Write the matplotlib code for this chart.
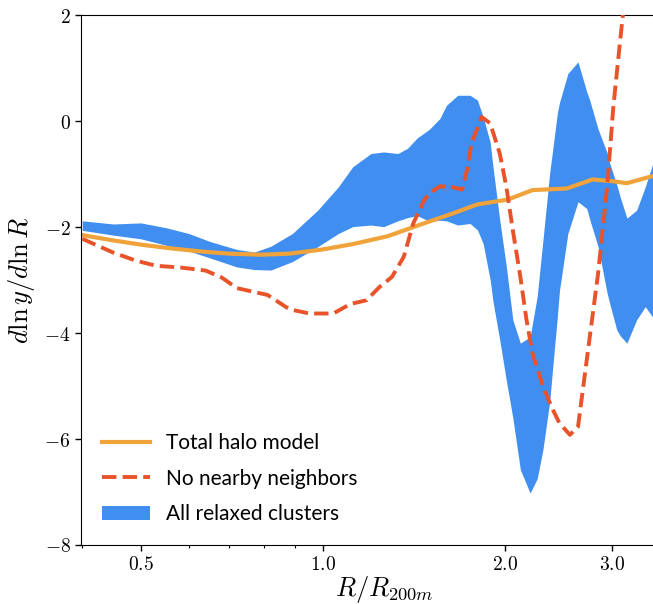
import numpy as np
import matplotlib
matplotlib.use("Agg")
import matplotlib.pyplot as plt
from matplotlib.ticker import FixedLocator, FixedFormatter, LogLocator, NullFormatter

# Total halo model (log-slope)
r_model = [0.40, 0.45, 0.50, 0.56, 0.63, 0.70, 0.79, 0.88, 1.00, 1.12, 1.28,
           1.45, 1.64, 1.80, 2.02, 2.22, 2.53, 2.79, 3.00, 3.18, 3.47, 3.70]
slope_model = [-2.15, -2.25, -2.33, -2.40, -2.46, -2.50, -2.52, -2.50, -2.42, -2.32, -2.17,
               -1.95, -1.74, -1.57, -1.48, -1.30, -1.27, -1.10, -1.13, -1.17, -1.05, -0.98]

# No nearby neighbors
r_iso = [0.40, 0.45, 0.49, 0.53, 0.58, 0.64, 0.68, 0.72, 0.81, 0.88, 0.95, 1.04,
         1.11, 1.18, 1.24, 1.30, 1.36, 1.41, 1.47, 1.50, 1.56, 1.63, 1.70, 1.73,
         1.76, 1.83, 1.89, 1.96, 2.01, 2.06, 2.12, 2.17, 2.22, 2.31, 2.40, 2.46,
         2.56, 2.64, 2.73, 2.85, 2.95, 3.02, 3.10, 3.20]
slope_iso = [-2.22, -2.48, -2.63, -2.73, -2.76, -2.82, -2.95, -3.15, -3.28, -3.55, -3.63, -3.63,
             -3.45, -3.38, -3.13, -2.94, -2.56, -1.93, -1.49, -1.36, -1.23, -1.24, -1.29, -0.92,
             -0.42, 0.08, -0.04, -0.61, -1.24, -2.06, -2.94, -3.75, -4.38, -5.01, -5.45, -5.70,
             -5.92, -5.77, -4.50, -2.87, -1.24, 0.27, 1.53, 3.00]

# All relaxed clusters (band)
r_band = [0.40, 0.45, 0.50, 0.55, 0.60, 0.65, 0.72, 0.77, 0.82, 0.89, 0.98, 1.06,
          1.12, 1.20, 1.26, 1.33, 1.38, 1.43, 1.50, 1.56, 1.60, 1.67, 1.75, 1.80,
          1.84, 1.89, 1.91, 1.96, 2.01, 2.06, 2.12, 2.20, 2.26, 2.31, 2.37, 2.40,
          2.44, 2.46, 2.54, 2.64, 2.73, 2.76, 2.85, 2.95, 2.98, 3.06, 3.10, 3.18,
          3.30, 3.41, 3.51, 3.65]
band_lo = [-2.06, -2.15, -2.22, -2.34, -2.45, -2.58, -2.75, -2.80, -2.81, -2.65, -2.37, -2.12,
           -1.99, -1.96, -1.99, -1.88, -1.82, -1.78, -1.89, -1.87, -1.88, -1.96, -1.93, -2.05,
           -2.31, -3.00, -3.40, -4.13, -4.90, -5.60, -6.58, -7.02, -6.75, -6.20, -5.30, -4.60,
           -3.70, -3.20, -2.12, -1.52, -1.65, -1.85, -2.37, -3.25, -3.45, -3.94, -4.05, -4.19,
           -3.75, -3.50, -3.70, -3.80]
band_hi = [-1.88, -1.94, -1.92, -2.01, -2.12, -2.27, -2.42, -2.47, -2.36, -2.12, -1.68, -1.24,
           -0.86, -0.61, -0.58, -0.61, -0.51, -0.32, -0.15, 0.05, 0.30, 0.49, 0.49, 0.40,
           0.08, -0.40, -0.86, -1.87, -2.75, -3.75, -4.19, -4.07, -3.31, -2.25, -0.98, -0.50,
           0.15, 0.35, 0.90, 1.12, 0.55, 0.40, -0.15, -0.60, -0.80, -1.20, -1.43, -1.83,
           -1.68, -1.24, -0.80, -0.40]

xticks = [0.5, 1.0, 2.0, 3.0]
xtick_labels = ["$0.5$", "$1.0$", "$2.0$", "$3.0$"]
yticks = [-8, -6, -4, -2, 0, 2]
ytick_labels = ["$-8$", "$-6$", "$-4$", "$-2$", "$0$", "$2$"]

plt.rcParams["mathtext.fontset"] = "cm"

fig = plt.figure(figsize=(6.53, 6.04), dpi=100)
# axes run past the right edge of the figure, as in the cropped original
ax = fig.add_axes([0.124, 0.0977, 0.9283, 0.877])

ax.fill_between(r_band, band_lo, band_hi, color="#3f8ef0", lw=0,
                label="All relaxed clusters", zorder=1)
ax.plot(r_model, slope_model, color="#f0a33a", lw=3.0,
        label="Total halo model", zorder=2)
ax.plot(r_iso, slope_iso, color="#e8532a", lw=2.8, ls="--",
        label="No nearby neighbors", zorder=3)

ax.set_xscale("log")
ax.set_xlim(0.398, 4.0)
ax.set_ylim(-8, 2)

ax.xaxis.set_major_locator(FixedLocator(xticks))
ax.xaxis.set_major_formatter(FixedFormatter(xtick_labels))
ax.xaxis.set_minor_locator(LogLocator(base=10, subs=np.arange(2, 10)))
ax.xaxis.set_minor_formatter(NullFormatter())
ax.yaxis.set_major_locator(FixedLocator(yticks))
ax.yaxis.set_major_formatter(FixedFormatter(ytick_labels))

ax.tick_params(which="major", direction="out", length=4, width=1, labelsize=14)
ax.tick_params(which="minor", direction="out", length=2.5, width=0.8)

ax.set_xlabel(r"$R/R_{200m}$", fontsize=19, labelpad=0)
ax.set_ylabel(r"$d\ln y/d\ln R$", fontsize=19, labelpad=5)

handles, labels = ax.get_legend_handles_labels()
order = [1, 2, 0]
ax.legend([handles[i] for i in order], [labels[i] for i in order],
          loc="lower left", frameon=False, prop={"family": "Lato", "size": 15},
          handlelength=2.3, labelspacing=0.75, borderaxespad=0.6)

fig.savefig("out.png", dpi=100)
